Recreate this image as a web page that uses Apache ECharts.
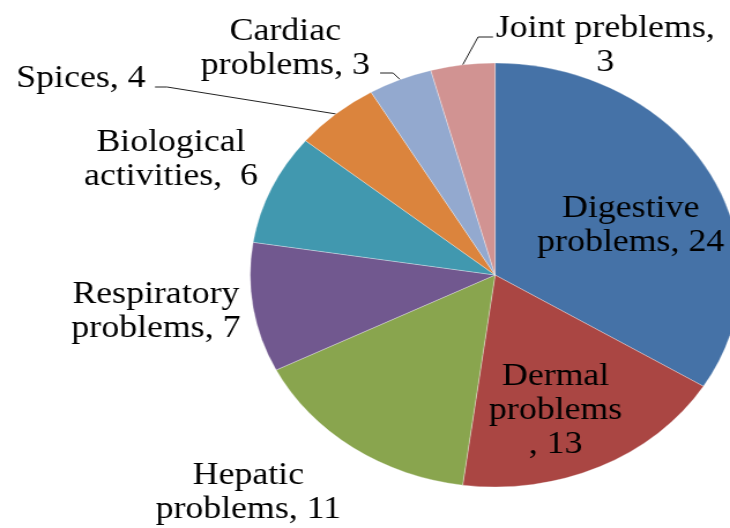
<!DOCTYPE html>
<html>
<head>
<meta charset="utf-8">
<script src="https://cdn.jsdelivr.net/npm/echarts@6/dist/echarts.min.js"></script>
<style>
body{
    margin: 0;
    background: #fff;
    overflow: hidden;
}
/* the original picture is stretched sideways, so the pie is an ellipse */
#chart{
    width: 632px;
    height: 528px;
    transform: scaleX(1.1551);
    transform-origin: 0 0;
}
</style>
</head>
<body>
<div id="chart"></div>
<script>
    // data, clockwise from 12 o'clock
    var categories = ['Digestive\nproblems', 'Dermal\nproblems', 'Hepatic\nproblems', 'Respiratory\nproblems',
        'Biological\nactivities', 'Spices', 'Cardiac\nproblems', 'Joint preblems'];
    var values = [24, 13, 11, 7, 6, 4, 3, 3];
    // how the value is joined to the name in each label
    var separators = [', ', '\n, ', ', ', ', ', ',  ', ', ', ', ', ',\n'];

    var colors = ['#4572a7', '#aa4643', '#89a54e', '#71588f', '#4198af', '#db843d', '#93a9cf', '#d19392'];
    var insideLabels = [0, 1];
    var withLines = [5, 6, 7];

    // label centres (chart px, before the stretch)
    var labelPos = [[546, 226], [481, 411], [215, 493], [135, 312], [148, 160], [70, 79], [247, 49], [524, 46]];
    // bend and end of the leader lines
    var linePts = {5: [[144.6, 87], [134.2, 87]], 6: [[340.3, 73], [329, 73]], 7: [[413.9, 37], [426.8, 37]]};

    var myChart = echarts.init(document.getElementById('chart'), null, {renderer: 'canvas'});

    var seriesData = [];
    for (var i = 0; i < values.length; i++) {
        seriesData.push({
            name: categories[i],
            value: values[i],
            itemStyle: {color: colors[i]},
            label: {position: insideLabels.indexOf(i) >= 0 ? 'inside' : 'outside'},
            labelLine: {show: withLines.indexOf(i) >= 0}
        });
    }

    var option = {
        animation: false,
        textStyle: {fontFamily: 'Liberation Serif'},
        series: [
            {
                type: 'pie',
                center: [428.6, 275],
                radius: 212,
                startAngle: 90,
                clockwise: true,
                avoidLabelOverlap: false,
                itemStyle: {
                    borderColor: 'rgba(255,255,255,0.6)',
                    borderWidth: 0.5
                },
                label: {
                    fontFamily: 'Liberation Serif',
                    fontSize: 31,
                    lineHeight: 34,
                    color: '#000',
                    align: 'center',
                    formatter: function (p) {
                        return p.name + separators[p.dataIndex] + p.value;
                    }
                },
                labelLine: {
                    length: 10,
                    length2: 10,
                    lineStyle: {color: '#222', width: 1}
                },
                labelLayout: function (params) {
                    var i = params.dataIndex;
                    var res = {
                        x: labelPos[i][0],
                        y: labelPos[i][1],
                        align: 'center',
                        verticalAlign: 'middle'
                    };
                    if (linePts[i] && params.labelLinePoints) {
                        res.labelLinePoints = [params.labelLinePoints[0], linePts[i][0], linePts[i][1]];
                    }
                    return res;
                },
                emphasis: {disabled: true},
                data: seriesData
            }
        ]
    };
    option && myChart.setOption(option);
</script>
</body>
</html>
